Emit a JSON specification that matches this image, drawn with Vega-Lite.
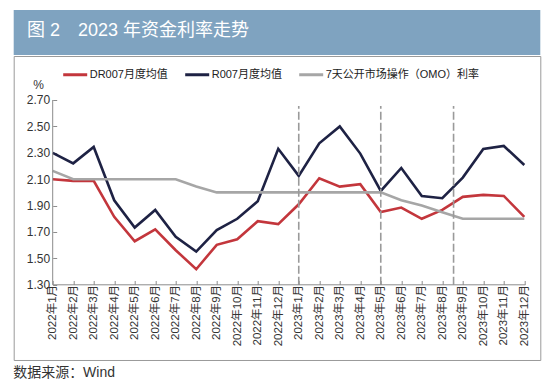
{
  "$schema": "https://vega.github.io/schema/vega-lite/v6.json",
  "padding": {"left": 12.7, "top": 10, "right": 10, "bottom": 0},
  "spacing": 0,
  "background": "white",
  "config": {
    "font": "Liberation Sans, Noto Sans CJK SC",
    "view": {"stroke": null},
    "axis": {"labelOverlap": false}
  },
  "resolve": {"scale": {"color": "independent"}, "legend": {"color": "independent"}},
  "title": {
    "text": "数据来源：Wind",
    "orient": "bottom",
    "anchor": "start",
    "offset": 5.5,
    "fontSize": 14,
    "fontWeight": "normal",
    "color": "#333333",
    "font": "Liberation Sans, Noto Sans CJK SC"
  },
  "vconcat": [
    {
      "width": 526.6,
      "height": 45,
      "view": {"fill": "#7FA3C0", "stroke": null},
      "data": {"values": [{"k": 1}]},
      "mark": {"type": "text", "text": "图 2　2023 年资金利率走势", "align": "left", "baseline": "middle", "dx": 13.3, "dy": -1.5, "fontSize": 18, "color": "white", "font": "Liberation Sans, Noto Sans CJK SC"},
      "encoding": {
        "x": {"datum": 0, "type": "quantitative", "scale": {"domain": [0, 1], "nice": false}, "axis": null},
        "y": {"datum": 0.5, "type": "quantitative", "scale": {"domain": [0, 1], "nice": false}, "axis": null}
      }
    },
    {
      "width": 526.6,
      "height": 304,
      "view": {"stroke": "#9a9a9a", "strokeWidth": 1, "fill": null},
      "data": {
        "values": [
          {"m": 0, "month": "2022年1月", "DR007月度均值": 2.10, "R007月度均值": 2.30, "7天公开市场操作（OMO）利率": 2.163},
          {"m": 1, "month": "2022年2月", "DR007月度均值": 2.087, "R007月度均值": 2.22, "7天公开市场操作（OMO）利率": 2.10},
          {"m": 2, "month": "2022年3月", "DR007月度均值": 2.087, "R007月度均值": 2.344, "7天公开市场操作（OMO）利率": 2.10},
          {"m": 3, "month": "2022年4月", "DR007月度均值": 1.815, "R007月度均值": 1.94, "7天公开市场操作（OMO）利率": 2.10},
          {"m": 4, "month": "2022年5月", "DR007月度均值": 1.63, "R007月度均值": 1.734, "7天公开市场操作（OMO）利率": 2.10},
          {"m": 5, "month": "2022年6月", "DR007月度均值": 1.72, "R007月度均值": 1.867, "7天公开市场操作（OMO）利率": 2.10},
          {"m": 6, "month": "2022年7月", "DR007月度均值": 1.562, "R007月度均值": 1.663, "7天公开市场操作（OMO）利率": 2.10},
          {"m": 7, "month": "2022年8月", "DR007月度均值": 1.418, "R007月度均值": 1.552, "7天公开市场操作（OMO）利率": 2.044},
          {"m": 8, "month": "2022年9月", "DR007月度均值": 1.603, "R007月度均值": 1.714, "7天公开市场操作（OMO）利率": 2.00},
          {"m": 9, "month": "2022年10月", "DR007月度均值": 1.645, "R007月度均值": 1.80, "7天公开市场操作（OMO）利率": 2.00},
          {"m": 10, "month": "2022年11月", "DR007月度均值": 1.782, "R007月度均值": 1.933, "7天公开市场操作（OMO）利率": 2.00},
          {"m": 11, "month": "2022年12月", "DR007月度均值": 1.76, "R007月度均值": 2.33, "7天公开市场操作（OMO）利率": 2.00},
          {"m": 12, "month": "2023年1月", "DR007月度均值": 1.91, "R007月度均值": 2.125, "7天公开市场操作（OMO）利率": 2.00},
          {"m": 13, "month": "2023年2月", "DR007月度均值": 2.107, "R007月度均值": 2.372, "7天公开市场操作（OMO）利率": 2.00},
          {"m": 14, "month": "2023年3月", "DR007月度均值": 2.044, "R007月度均值": 2.50, "7天公开市场操作（OMO）利率": 2.00},
          {"m": 15, "month": "2023年4月", "DR007月度均值": 2.062, "R007月度均值": 2.294, "7天公开市场操作（OMO）利率": 2.00},
          {"m": 16, "month": "2023年5月", "DR007月度均值": 1.852, "R007月度均值": 2.011, "7天公开市场操作（OMO）利率": 2.00},
          {"m": 17, "month": "2023年6月", "DR007月度均值": 1.885, "R007月度均值": 2.185, "7天公开市场操作（OMO）利率": 1.94},
          {"m": 18, "month": "2023年7月", "DR007月度均值": 1.80, "R007月度均值": 1.973, "7天公开市场操作（OMO）利率": 1.90},
          {"m": 19, "month": "2023年8月", "DR007月度均值": 1.867, "R007月度均值": 1.956, "7天公开市场操作（OMO）利率": 1.85},
          {"m": 20, "month": "2023年9月", "DR007月度均值": 1.966, "R007月度均值": 2.112, "7天公开市场操作（OMO）利率": 1.80},
          {"m": 21, "month": "2023年10月", "DR007月度均值": 1.981, "R007月度均值": 2.329, "7天公开市场操作（OMO）利率": 1.80},
          {"m": 22, "month": "2023年11月", "DR007月度均值": 1.973, "R007月度均值": 2.352, "7天公开市场操作（OMO）利率": 1.80},
          {"m": 23, "month": "2023年12月", "DR007月度均值": 1.815, "R007月度均值": 2.208, "7天公开市场操作（OMO）利率": 1.80}
        ]
      },
      "layer": [
        {
          "transform": [
            {"fold": ["DR007月度均值", "R007月度均值", "7天公开市场操作（OMO）利率"], "as": ["series", "value"]}
          ],
          "mark": {"type": "line", "strokeWidth": 2.6, "strokeJoin": "miter"},
          "encoding": {
            "x": {
              "field": "m",
              "type": "quantitative",
              "scale": {"domain": [-1.902, 23.78], "nice": false, "zero": false},
              "axis": {
                "orient": "bottom",
                "offset": -75.5,
                "values": [0, 1, 2, 3, 4, 5, 6, 7, 8, 9, 10, 11, 12, 13, 14, 15, 16, 17, 18, 19, 20, 21, 22, 23],
                "tickCount": 24,
                "labelExpr": "datum.value < 0 ? '' : datum.value < 12 ? '2022年' + (datum.value + 1) + '月' : '2023年' + (datum.value - 11) + '月'",
                "labelAngle": -90,
                "labelFontSize": 11.5,
                "labelColor": "#333333",
                "labelPadding": 4,
                "labelOverlap": false,
                "labelFlush": false,
                "domain": false,
                "grid": false,
                "ticks": true,
                "tickSize": -4,
                "tickColor": "#8c8c8c",
                "tickOpacity": {"condition": {"test": "datum.value < 0", "value": 0}, "value": 1},
                "title": null
              }
            },
            "y": {
              "field": "value",
              "type": "quantitative",
              "scale": {"domain": [0.7303, 3.0333], "nice": false, "zero": false},
              "axis": {
                "offset": -39,
                "values": [1.3, 1.5, 1.7, 1.9, 2.1, 2.3, 2.5, 2.7],
                "format": ".2f",
                "labelFontSize": 12,
                "labelColor": "#333333",
                "labelPadding": 7,
                "labelFlush": false,
                "domain": false,
                "grid": false,
                "tickSize": -4,
                "tickColor": "#8c8c8c",
                "title": "%",
                "titleAngle": 0,
                "titleX": -14.7,
                "titleY": 28,
                "titleAlign": "center",
                "titleBaseline": "middle",
                "titleFontSize": 12,
                "titleFontWeight": "normal",
                "titleColor": "#333333"
              }
            },
            "color": {
              "field": "series",
              "type": "nominal",
              "scale": {
                "domain": ["DR007月度均值", "R007月度均值", "7天公开市场操作（OMO）利率"],
                "range": ["#C3363C", "#1E2244", "#A6A6A6"]
              },
              "legend": {
                "orient": "none",
                "legendX": 48,
                "legendY": 5,
                "direction": "horizontal",
                "title": null,
                "symbolType": "stroke",
                "symbolSize": 576,
                "symbolStrokeWidth": 3,
                "labelFontSize": 11,
                "labelColor": "#222222",
                "labelOffset": 1,
                "labelLimit": 0,
                "columnPadding": 10,
                "padding": 0
              }
            }
          }
        },
        {
          "data": {"values": [{"m": 12}, {"m": 16}, {"m": 19.55}]},
          "mark": {"type": "rule", "color": "#9a9a9a", "strokeWidth": 1.6, "strokeDash": [8, 3]},
          "encoding": {
            "x": {"field": "m", "type": "quantitative"},
            "y": {"datum": 1.3, "type": "quantitative"},
            "y2": {"datum": 2.655}
          }
        },
        {
          "data": {"values": [{"k": 1}]},
          "mark": {"type": "rule", "color": "#8c8c8c", "strokeWidth": 1},
          "encoding": {
            "x": {"datum": 0, "type": "quantitative"},
            "x2": {"datum": 23.05},
            "y": {"datum": 1.3, "type": "quantitative"}
          }
        },
        {
          "data": {"values": [{"k": 1}]},
          "mark": {"type": "rule", "color": "#8c8c8c", "strokeWidth": 1},
          "encoding": {
            "x": {"datum": 0, "type": "quantitative"},
            "y": {"datum": 1.3, "type": "quantitative"},
            "y2": {"datum": 2.7}
          }
        }
      ]
    }
  ]
}
